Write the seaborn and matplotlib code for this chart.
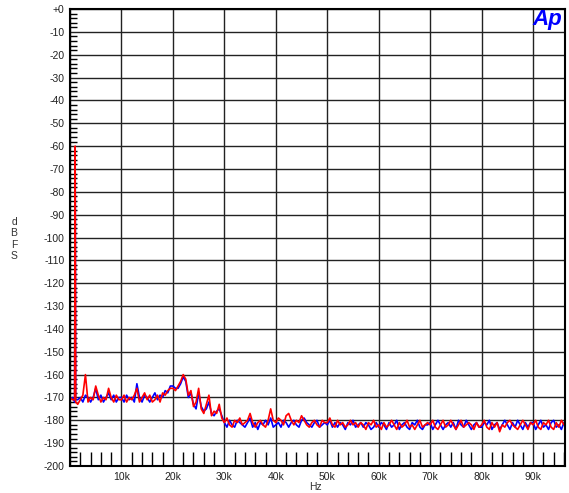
"""
FFT espectro - dois canais (estilo Audio Precision)
"""

import numpy as np
import pandas as pd
import matplotlib
matplotlib.use('Agg')
import matplotlib.pyplot as plt
from matplotlib.ticker import MultipleLocator, FuncFormatter
import seaborn as sns

# Frequencias (kHz): bins finos perto da fundamental, depois passo de 0.5k
freq_lo_khz = [0.0, 0.5, 0.9, 1.0, 1.1, 1.5]
freq_hi_khz = list(np.arange(2.0, 96.01, 0.5))

# Canal vermelho (dBFS)
red_lo = [-170, -171, -171, -60, -172, -173]
red_02 = [-171, -169, -160, -172, -170, -171, -165, -169, -172, -170, -171, -166, -170, -172, -169, -171]
red_10 = [-171, -169, -172, -170, -171, -169, -166, -172, -170, -168, -171, -169, -172, -171, -169, -172, -168, -169, -167, -166]
red_20 = [-166, -167, -165, -163, -160, -162, -169, -167, -174, -172, -166, -175, -177, -173, -169, -178, -176, -177, -173, -179]
red_30 = [-181, -179, -182, -183, -180, -181, -179, -182, -181, -180, -177, -181, -183, -181, -180, -182, -183, -180, -175, -180]
red_40 = [-181, -179, -180, -182, -178, -177, -180, -182, -180, -181, -178, -180, -182, -183, -181, -180, -182, -183, -180, -181]
red_50 = [-181, -179, -182, -183, -180, -182, -181, -183, -182, -180, -182, -181, -183, -181, -182, -184, -181, -182, -180, -183]
red_60 = [-182, -184, -181, -183, -182, -180, -182, -184, -181, -183, -182, -180, -183, -182, -184, -182, -180, -183, -182, -181]
red_70 = [-182, -180, -183, -184, -182, -180, -183, -182, -180, -182, -184, -182, -180, -183, -182, -181, -182, -184, -181, -183]
red_80 = [-182, -180, -183, -184, -181, -183, -181, -185, -182, -183, -181, -180, -182, -183, -184, -182, -180, -182, -184, -181]
red_90 = [-182, -180, -183, -184, -181, -182, -180, -183, -184, -181, -183, -180, -182]

# Canal azul (dBFS)
blue_lo = [-171, -170, -172, -61, -171, -171]
blue_02 = [-170, -172, -169, -170, -172, -170, -166, -171, -169, -172, -170, -168, -171, -169, -172, -170]
blue_10 = [-170, -172, -169, -171, -170, -172, -164, -170, -172, -169, -170, -172, -170, -168, -171, -169, -170, -167, -168, -165]
blue_20 = [-165, -166, -166, -164, -161, -163, -170, -168, -173, -175, -168, -174, -176, -175, -172, -177, -178, -176, -175, -178]
blue_30 = [-181, -183, -180, -182, -183, -180, -181, -182, -183, -181, -179, -183, -181, -184, -181, -182, -180, -182, -179, -183]
blue_40 = [-182, -181, -183, -180, -181, -183, -181, -180, -182, -183, -180, -179, -181, -182, -183, -181, -180, -183, -182, -181]
blue_50 = [-182, -180, -183, -181, -183, -181, -182, -184, -181, -182, -180, -183, -182, -181, -183, -181, -182, -184, -183, -181]
blue_60 = [-183, -181, -182, -184, -181, -183, -182, -180, -184, -182, -181, -183, -184, -181, -182, -180, -183, -184, -182, -182]
blue_70 = [-181, -184, -182, -180, -182, -184, -182, -181, -183, -181, -184, -180, -182, -183, -180, -182, -184, -182, -181, -183]
blue_80 = [-183, -181, -182, -180, -184, -182, -181, -184, -182, -180, -182, -184, -181, -183, -180, -182, -184, -181, -183, -181]
blue_90 = [-181, -184, -182, -180, -183, -182, -184, -181, -180, -183, -182, -184, -181]

freq_khz = freq_lo_khz + freq_hi_khz
red_db = red_lo + red_02 + red_10 + red_20 + red_30 + red_40 + red_50 + red_60 + red_70 + red_80 + red_90
blue_db = blue_lo + blue_02 + blue_10 + blue_20 + blue_30 + blue_40 + blue_50 + blue_60 + blue_70 + blue_80 + blue_90
assert len(red_db) == len(freq_khz) == len(blue_db)

df = pd.DataFrame({
    'Hz': np.array(freq_khz * 2) * 1000,
    'dBFS': blue_db + red_db,
    'canal': ['azul'] * len(freq_khz) + ['vermelho'] * len(freq_khz),
})

sns.set_style('white')
plt.rcParams['font.family'] = ['Liberation Sans', 'DejaVu Sans']

fig = plt.figure(figsize=(5.69, 4.93), dpi=100)
ax = fig.add_axes([70 / 569, 1 - 466 / 493, 495 / 569, 457 / 493])

sns.lineplot(data=df, x='Hz', y='dBFS', hue='canal',
             palette={'azul': '#0000ff', 'vermelho': '#ff0000'},
             linewidth=1.2, legend=False, ax=ax, estimator=None, sort=False)

ax.set_xlim(0, 96200)
ax.set_ylim(-200, 0)

ax.xaxis.set_major_locator(MultipleLocator(10000))
ax.xaxis.set_minor_locator(MultipleLocator(2000))
ax.yaxis.set_major_locator(MultipleLocator(10))
ax.yaxis.set_minor_locator(MultipleLocator(2))

ax.xaxis.set_major_formatter(FuncFormatter(lambda v, p: '' if v == 0 else f'{int(v / 1000)}k'))
ax.yaxis.set_major_formatter(FuncFormatter(lambda v, p: '+0' if v == 0 else f'{int(v)}'))

ax.grid(True, which='major', color='#222222', linewidth=1.0)
ax.set_axisbelow(True)

ax.tick_params(axis='both', which='major', length=0, labelsize=7.5, pad=4,
               colors='#222222')
ax.tick_params(axis='y', which='minor', direction='in', length=5, width=1.0,
               left=True, color='black')
ax.tick_params(axis='x', which='minor', direction='in', length=10, width=1.0,
               bottom=True, color='black')

for s in ax.spines.values():
    s.set_color('black')
    s.set_linewidth(1.5)

ax.set_xlabel('')
ax.set_ylabel('')
fig.text(315 / 569, 1 - 487 / 493, 'Hz', ha='center', va='center', fontsize=7.5, color='#333333')
fig.text(14 / 569, 1 - 239 / 493, 'd\nB\nF\nS', ha='center', va='center',
         fontsize=7.5, color='#333333', linespacing=1.2)

ax.text(0.964, 0.976, 'Ap', transform=ax.transAxes, ha='center', va='center',
        fontsize=16, fontweight='bold', fontstyle='italic', color='#0000ff')

fig.savefig('out.png', dpi=100)
